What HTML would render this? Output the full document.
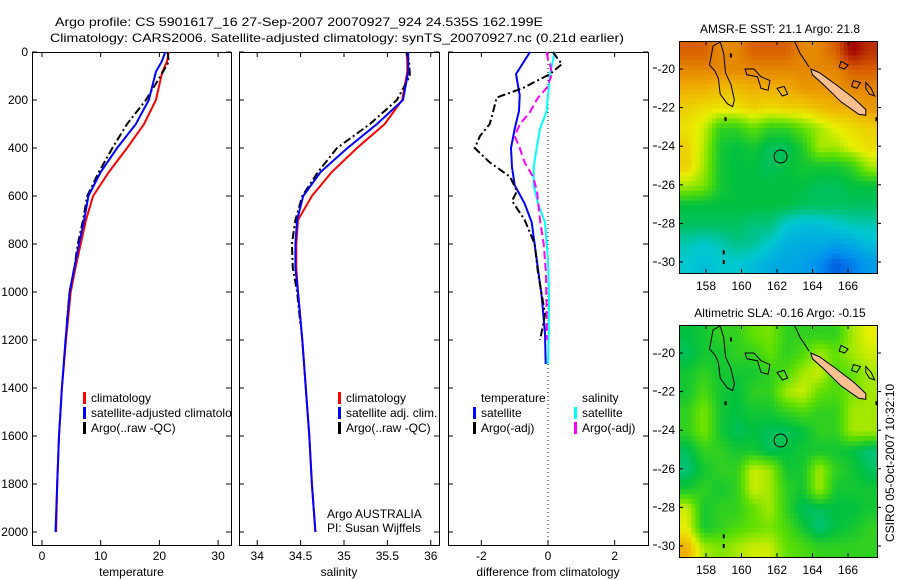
<!DOCTYPE html>
<html><head><meta charset="utf-8">
<style>
html,body{margin:0;padding:0;background:#fff;}
svg{display:block;font-family:"Liberation Sans",sans-serif;}
text{font-size:12px;fill:#000;}
</style></head>
<body>
<svg id="fig" width="900" height="580" viewBox="0 0 900 580">
<defs><clipPath id="clip1"><rect x="32" y="52" width="200" height="494"/></clipPath></defs>
<text x="55" y="26" textLength="488" lengthAdjust="spacingAndGlyphs">Argo profile: CS 5901617_16 27-Sep-2007 20070927_924 24.535S 162.199E</text>
<text x="50" y="42" textLength="574" lengthAdjust="spacingAndGlyphs">Climatology: CARS2006. Satellite-adjusted climatology: synTS_20070927.nc (0.21d earlier)</text>
<g id="g"></g>
</svg>
<script>
// ---- profile data (depth in m) ----
const tDepth = [0, 40, 83, 200, 300, 400, 500, 600, 700, 800, 900, 1000, 1200, 1400, 1600, 1800, 2000];
const tClim  = [21.6, 21.3, 20.5, 19.4, 17.4, 14.5, 11.4, 8.7, 7.5, 6.6, 5.7, 4.9, 4.1, 3.4, 2.9, 2.6, 2.4];
const tSat   = [21.0, 20.4, 19.4, 18.2, 16.0, 12.8, 10.0, 7.9, 7.2, 6.3, 5.5, 4.7, 4.0, 3.4, 2.9, 2.6, 2.3];
const argoDepth = [0, 40, 100, 200, 300, 400, 500, 600, 700, 800, 900, 1000, 1140];
const tArgo  = [21.4, 21.6, 20.2, 17.7, 14.5, 12.0, 9.7, 7.7, 7.0, 6.1, 5.5, 4.7, 4.2];
const sClim  = [35.72, 35.73, 35.73, 35.67, 35.47, 35.15, 34.86, 34.63, 34.47, 34.45, 34.45, 34.47, 34.52, 34.56, 34.60, 34.63, 34.67];
const sSat   = [35.74, 35.74, 35.74, 35.68, 35.38, 35.04, 34.73, 34.53, 34.46, 34.44, 34.44, 34.47, 34.52, 34.56, 34.60, 34.63, 34.67];
const sArgo  = [35.72, 35.75, 35.76, 35.61, 35.30, 34.92, 34.70, 34.52, 34.44, 34.40, 34.41, 34.46, 34.50];
// ---- differences ----
const dDepth = [0, 92, 180, 246, 320, 400, 480, 555, 632, 710, 864, 1018, 1172, 1300];
const dTSat  = [-0.54, -0.96, -0.85, -0.87, -1.0, -1.11, -1.08, -1.0, -0.7, -0.49, -0.34, -0.19, -0.09, -0.07];
const dSSat  = [0.2, 0.06, 0.0, -0.04, -0.24, -0.34, -0.43, -0.43, -0.3, -0.09, 0.0, 0.03, 0.02, 0.0];
const dArgoDepth = [0, 30, 50, 92, 150, 190, 250, 300, 350, 400, 460, 520, 580, 620, 700, 800, 920, 1090, 1140, 1200];
const dTArgo = [0.15, 0.3, 0.42, 0.06, -0.75, -1.54, -1.65, -1.75, -2.04, -2.2, -1.75, -1.14, -0.93, -1.08, -0.7, -0.4, -0.3, -0.09, -0.15, -0.24];
const dSArgo = [-0.04, 0.0, 0.06, 0.12, -0.04, -0.3, -0.54, -0.84, -1.0, -0.85, -0.7, -0.45, -0.33, -0.3, -0.24, -0.13, -0.06, -0.04, -0.04, -0.04];
// ---- map grids (colour index 0..8), rows north->south ----
const sstGrid = [
[7,7,6.5,6.5,7,7,7,6.5,6.5,7,8,7.5],
[6.5,6.5,6.5,6.5,6.5,6.5,6.5,6.5,6.5,6.5,7,7],
[6,6,5.8,5.8,6,6,6,6.3,6.3,6.3,6.5,6.5],
[5.5,5.3,5.2,5.2,5.5,5.3,5.5,5.5,5.8,6,6,6.3],
[5.2,4.8,3.5,3.5,4,3.5,3.5,4,4.5,5,5.3,5.5],
[5.5,4.6,3.2,3,3.2,2.8,2.8,3.3,4.5,4.5,5,5.3],
[5.5,4.5,3.2,3,3,2.8,3,3.2,3.2,3.2,3.5,4.5],
[4.5,4.2,3.2,3,3,3,3,3,2.8,2.8,3,3],
[3,3,3,3,3,3,3,2.8,2.8,2.8,2.8,2.8],
[2.8,2.8,2.8,2.8,2.6,2.6,2,1.8,1.8,2,2.2,2.2],
[2.2,2,2.2,2.5,2.4,2,1.6,1.5,1.5,1.3,1.5,1.8],
[2,1.8,2,2,1.8,1.5,1.4,1.3,1,0.5,0.8,1.2]];
const slaGrid = [
[3,3.2,3.5,3.5,4,4.2,3.5,3.5,3.5,3.5,4.5,5],
[2.8,3.2,3.2,3.5,3.5,4,3.5,3.8,4.5,4,4.5,4.8],
[3.2,3.5,3.2,3.2,3.2,3.5,3.8,4.5,4.8,3.8,4,4.5],
[3.2,3.8,3.2,3,3.5,3.5,4.5,4.8,4,3.8,4.2,4.5],
[3.5,4.2,3.2,3,3.2,3.2,3.5,3.8,3.5,3.5,4.5,4.5],
[3.5,4.2,3.2,2.8,3,2.8,2.8,3,3.5,3.5,4.5,4.5],
[2.8,3.5,3.5,3.2,3.2,2.8,3,3.2,3.2,3.2,3,2.6],
[2.6,3.2,3.5,3.5,4.8,4.5,3.2,3.2,4.5,3.5,3.2,2.8],
[3.2,3.5,3.2,3.5,4.8,4.5,3.5,3.2,4.5,3.2,3.2,3.2],
[4.8,3.2,3.5,3.5,4,4.5,3.5,2.8,2.8,3,3,3.2],
[5,3.2,3.5,3.8,4,4.2,3.8,3.2,2.6,3,3.2,3.5],
[6,4.5,4.2,4.5,4.8,4.8,4,3.8,3.5,3.5,3.5,3.5]];

const NS = "http://www.w3.org/2000/svg";
const G = document.getElementById('g');
function mk(tag, attrs, parent, txt){
  const e = document.createElementNS(NS, tag);
  for (const k in attrs) e.setAttribute(k, attrs[k]);
  if (txt !== undefined) e.textContent = txt;
  (parent || G).appendChild(e);
  return e;
}
const Y0 = 52, YB = 545;
const yD = d => Y0 + d * 0.24;
const panels = [
  {x0:32, x1:231, lo:-1.7, hi:32.2, ticks:[0,10,20,30], lab:['0','10','20','30'], name:'temperature-panel', xl:'temperature'},
  {x0:239, x1:439, lo:33.79, hi:36.095, ticks:[34,34.5,35,35.5,36], lab:['34','34.5','35','35.5','36'], name:'salinity-panel', xl:'salinity'},
  {x0:448, x1:648, lo:-3, hi:3, ticks:[-2,0,2], lab:['-2','0','2'], name:'difference-panel', xl:'difference from climatology'}
];
panels.forEach(p => { p.sx = v => p.x0 + (v - p.lo) / (p.hi - p.lo) * (p.x1 - p.x0); });

panels.forEach((p, i) => {
  const g = mk('g', {});
  
  
  const fr = mk('rect', {x:p.x0+0.5, y:Y0+0.5, width:p.x1-p.x0, height:YB-Y0, fill:'none', stroke:'#000', 'stroke-width':1}, g);
  
  
  p.ticks.forEach((t, k) => {
    const x = p.sx(t);
    mk('line', {x1:x, x2:x, y1:YB, y2:YB-5, stroke:'#000'}, g);
    mk('line', {x1:x, x2:x, y1:Y0, y2:Y0+5, stroke:'#000'}, g);
    const tl = mk('text', {x:x, y:560, 'text-anchor':'middle'}, g, p.lab[k]);
    
    
  });
  for (let d = 0; d <= 2000; d += 200) {
    const y = yD(d);
    mk('line', {x1:p.x0, x2:p.x0+5, y1:y, y2:y, stroke:'#000'}, g);
    mk('line', {x1:p.x1, x2:p.x1-5, y1:y, y2:y, stroke:'#000'}, g);
    if (i === 0) {
      const yl = mk('text', {x:28, y:y+4, 'text-anchor':'end'}, g, String(d));
      
      
    }
  }
  const xt = mk('text', {x:(p.x0+p.x1)/2, y:576, 'text-anchor':'middle'}, g, p.xl);
  
  
});
[68,107,146,185,223,262,354,391,431,470,507,545].forEach(y => mk('line', {x1:653, x2:657, y1:y, y2:y, stroke:'#000'}));
const zl = mk('line', {x1:panels[2].sx(0), x2:panels[2].sx(0), y1:Y0, y2:YB, stroke:'#000', 'stroke-dasharray':'1,3'});



function line(p, vals, depths, color, dash, name, w){
  const pts = vals.map((v, k) => p.sx(v).toFixed(1) + ',' + yD(depths[k]).toFixed(1)).join(' ');
  const e = mk('polyline', {points:pts, fill:'none', stroke:color, 'stroke-width':w||2, 'stroke-dasharray':dash||'none'});
  
  
}
line(panels[0], tClim, tDepth, '#ff0000', null, 'temp-climatology-line');
line(panels[0], tArgo, argoDepth, '#000', '8,3,2,3', 'temp-argo-line');
line(panels[0], tSat, tDepth, '#0000ff', null, 'temp-satellite-line');
line(panels[1], sClim, tDepth, '#ff0000', null, 'sal-climatology-line');
line(panels[1], sArgo, argoDepth, '#000', '8,3,2,3', 'sal-argo-line');
line(panels[1], sSat, tDepth, '#0000ff', null, 'sal-satellite-line');
line(panels[2], dSSat, dDepth, '#00ffff', null, 'diff-sal-satellite-line');
line(panels[2], dTSat, dDepth, '#0000ff', null, 'diff-temp-satellite-line');
line(panels[2], dSArgo, dArgoDepth, '#ff00ff', '8,4', 'diff-sal-argo-line');
line(panels[2], dTArgo, dArgoDepth, '#000', '8,3,2,3', 'diff-temp-argo-line');

function legend(x, y, color, label, name, clip){
  const g = mk('g', clip ? {'clip-path':'url(#clip1)'} : {});
  
  
  if (color) mk('rect', {x:x, y:y-10, width:3, height:12, fill:color}, g);
  mk('text', {x:x+8, y:y}, g, label);
}
legend(83, 402, '#ff0000', 'climatology', 'legend-climatology', 1);
legend(83, 417, '#0000ff', 'satellite-adjusted climatology', 'legend-satellite-adjusted', 1);
legend(83, 432, '#000', 'Argo(..raw -QC)', 'legend-argo', 1);
legend(338, 402, '#ff0000', 'climatology', 'legend-climatology-sal');
legend(338, 417, '#0000ff', 'satellite adj. clim.', 'legend-satellite-sal');
legend(338, 432, '#000', 'Argo(..raw -QC)', 'legend-argo-sal');
legend(473, 402, null, 'temperature', 'legend-temperature-header');
legend(473, 417, '#0000ff', 'satellite', 'legend-temp-satellite');
legend(473, 432, '#000', 'Argo(-adj)', 'legend-temp-argo');
legend(574, 402, null, 'salinity', 'legend-salinity-header');
legend(574, 417, '#00ffff', 'satellite', 'legend-sal-satellite');
legend(574, 432, '#ff00ff', 'Argo(-adj)', 'legend-sal-argo');
const c1 = mk('text', {x:327, y:518}, G, 'Argo AUSTRALIA');


const c2 = mk('text', {x:327, y:532}, G, 'PI: Susan Wijffels');



// ---- maps ----
const stops = [[0,48,208],[0,144,240],[0,200,208],[0,192,64],[96,224,0],[232,240,0],[240,176,0],[216,96,0],[160,0,0]];
function cmap(v){
  v = Math.max(0, Math.min(8, v));
  const i = Math.min(7, Math.floor(v)), f = v - i;
  const a = stops[i], b = stops[i+1];
  return 'rgb(' + a.map((c, k) => Math.round(c + (b[k]-c)*f)).join(',') + ')';
}
function sample(grid, r, c){
  // bilinear sample at fractional cell-centre coordinates
  const R = grid.length, C = grid[0].length;
  r = Math.max(0, Math.min(R-1, r)); c = Math.max(0, Math.min(C-1, c));
  const r0 = Math.floor(r), c0 = Math.floor(c), r1 = Math.min(R-1, r0+1), c1 = Math.min(C-1, c0+1);
  const fr = r - r0, fc = c - c0;
  return grid[r0][c0]*(1-fr)*(1-fc) + grid[r0][c1]*(1-fr)*fc + grid[r1][c0]*fr*(1-fc) + grid[r1][c1]*fr*fc;
}
const LON0 = 156.48, LON1 = 167.63, LAT0 = -18.55, LAT1 = -30.57;
function drawMap(top, grid, title, name){
  const x0 = 679, x1 = 877, y0 = top, y1 = top + 232;
  const lx = lon => x0 + (lon - LON0) / (LON1 - LON0) * (x1 - x0);
  const ly = lat => y0 + (lat - LAT0) / (LAT1 - LAT0) * (y1 - y0);
  const g = mk('g', {});
  
  
  const rows = grid.length, cols = grid[0].length, up = 4;
  const R = rows*up, C = cols*up;
  const cw = (x1-x0)/C, ch = (y1-y0)/R;
  for (let r = 0; r < R; r++) for (let c = 0; c < C; c++) {
    const v = sample(grid, (r+0.5)/up - 0.5, (c+0.5)/up - 0.5);
    const cell = mk('rect', {x:(x0+c*cw).toFixed(2), y:(y0+r*ch).toFixed(2), width:(cw+0.5).toFixed(2), height:(ch+0.5).toFixed(2), fill:cmap(v)}, g);
    
    
  }
  const P = arr => arr.map(p => lx(p[0]).toFixed(1) + ',' + ly(p[1]).toFixed(1)).join(' ');
  const nc = mk('polygon', {points:P([[163.9,-20.0],[164.4,-20.2],[165.3,-20.8],[166.3,-21.5],[167.0,-22.1],[167.0,-22.4],[166.6,-22.35],[165.6,-21.7],[164.6,-20.8],[164.0,-20.3]]), fill:'#ffc090', stroke:'#000', 'stroke-width':1}, g);
  
  
  const reefs = [
    [[158.4,-18.8],[158.8,-18.6],[159.0,-19.2],[159.1,-20.2],[159.4,-20.8],[159.6,-21.6],[159.5,-21.95],[159.2,-21.8],[158.8,-21.3],[158.7,-20.5],[158.5,-20.1],[158.2,-19.8],[158.3,-19.3]],
    [[160.2,-20.0],[160.7,-20.0],[161.1,-20.4],[161.6,-20.6],[161.5,-21.1],[161.1,-21.0],[160.9,-20.4],[160.3,-20.3]],
    [[162.0,-21.0],[162.4,-20.9],[162.6,-21.3],[162.3,-21.4]],
    [[165.6,-19.6],[166.0,-19.8],[165.8,-20.0],[165.5,-19.9]],
    [[166.3,-20.6],[166.7,-20.7],[166.5,-21.0],[166.2,-20.9]],
    [[167.0,-20.7],[167.3,-21.0],[167.5,-21.4],[167.2,-21.3],[167.0,-21.0]]
  ];
  reefs.forEach(rf => {
    const e = mk('polygon', {points:P(rf), fill:'none', stroke:'#000', 'stroke-width':1}, g);
    
    
  });
  mk('polyline', {points:P([[163.0,-18.6],[163.3,-19.2],[163.6,-19.6],[163.8,-19.9]]), fill:'none', stroke:'#000', 'stroke-width':1}, g);
  [[167.6,-22.6],[159.1,-22.6],[159.0,-29.5],[159.0,-30.0],[159.4,-19.3]].forEach(p => mk('rect', {x:lx(p[0])-1, y:ly(p[1])-2, width:2, height:4, fill:'#000'}, g));
  const circ = mk('circle', {cx:lx(162.199), cy:ly(-24.535), r:6.5, fill:'none', stroke:'#000', 'stroke-width':1}, g);
  
  
  mk('rect', {x:x0+0.5, y:y0+0.5, width:x1-x0, height:y1-y0, fill:'none', stroke:'#000'}, g);
  [158,160,162,164,166].forEach(lon => {
    const x = lx(lon);
    mk('line', {x1:x, x2:x, y1:y1, y2:y1-4, stroke:'#000'}, g);
    mk('line', {x1:x, x2:x, y1:y0, y2:y0+4, stroke:'#000'}, g);
    const t = mk('text', {x:x, y:y1+17, 'text-anchor':'middle'}, g, String(lon));
    
    
  });
  [-20,-22,-24,-26,-28,-30].forEach(lat => {
    const y = ly(lat);
    mk('line', {x1:x0, x2:x0+4, y1:y, y2:y, stroke:'#000'}, g);
    mk('line', {x1:x1, x2:x1+4, y1:y, y2:y, stroke:'#000'}, g);
    const t = mk('text', {x:675, y:y+4, 'text-anchor':'end'}, g, String(lat));
    
    
  });
  const tt = mk('text', {x:(x0+x1)/2+2, y:y0-8, 'text-anchor':'middle'}, g, title);
  
  
}
drawMap(41, sstGrid, 'AMSR-E SST: 21.1 Argo: 21.8', 'sst-map');
drawMap(325, slaGrid, 'Altimetric SLA: -0.16 Argo: -0.15', 'sla-map');
const st = mk('text', {x:0, y:0, 'text-anchor':'middle', transform:'translate(894,463) rotate(-90)'}, G, 'CSIRO 05-Oct-2007 10:32:10');


</script>
</body></html>
